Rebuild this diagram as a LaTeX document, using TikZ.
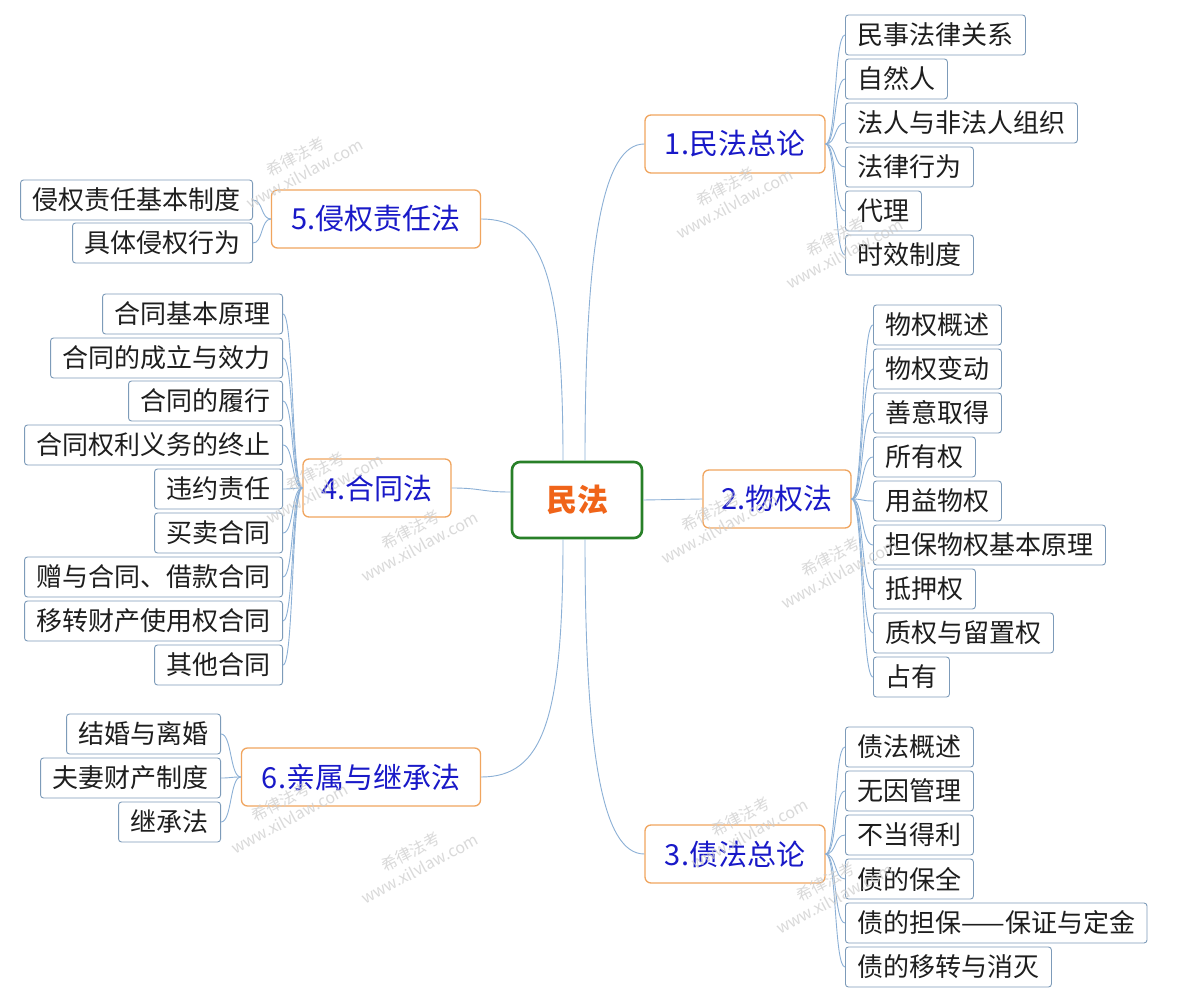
\documentclass[tikz,border=0pt]{standalone}
\usepackage{fontspec}
\setmainfont{Noto Sans CJK SC}
\definecolor{linkc}{RGB}{140,176,214}
\definecolor{leafc}{RGB}{125,155,185}
\definecolor{topc}{RGB}{240,165,95}
\definecolor{topt}{RGB}{25,25,200}
\definecolor{centc}{RGB}{40,128,40}
\definecolor{centt}{RGB}{240,100,25}
\definecolor{wmc}{RGB}{205,205,205}
\definecolor{leaft}{RGB}{30,30,30}
\begin{document}
\begin{tikzpicture}[x=1pt,y=-1pt,
  conn/.style={draw=linkc, line width=0.9pt},
  leaf/.style={draw=leafc, rounded corners=3pt, fill=white, minimum height=40pt,
    inner xsep=12pt, inner ysep=0pt, line width=0.9pt, text=leaft,
    font=\fontsize{26}{27}\selectfont},
  topic/.style={draw=topc, rounded corners=6pt, fill=white, minimum height=58pt,
    inner sep=0pt, line width=1.3pt, text=topt, font=\fontsize{29}{30}\selectfont},
  central/.style={draw=centc, rounded corners=8pt, fill=white, line width=2.6pt,
    minimum width=130pt, minimum height=76pt, text=centt,
    font=\fontsize{31}{32}\selectfont\bfseries},
  wm/.style={text=wmc, opacity=0.75, rotate=28, align=center,
    font=\fontsize{16}{19}\selectfont}
]
\useasboundingbox (0,0) rectangle (1181,1000);
\fill[white] (0,0) rectangle (1181,1000);

% central and main topics
\node[central] (c) at (577,500) {民法};
\node[topic, minimum width=180pt] (t1) at (735,144) {1.民法总论};
\node[topic, minimum width=148pt] (t2) at (777,499) {2.物权法};
\node[topic, minimum width=180pt] (t3) at (735,854) {3.债法总论};
\node[topic, minimum width=148pt] (t4) at (377,488) {4.合同法};
\node[topic, minimum width=209pt] (t5) at (376,219) {5.侵权责任法};
\node[topic, minimum width=239pt] (t6) at (361,777) {6.亲属与继承法};

% central connectors
\draw[conn] ([xshift=8pt]c.north) .. controls +(0,-215) and +(-42,0) .. (t1.west);
\draw[conn] ([xshift=-14pt]c.north) .. controls +(0,-185) and +(62,0) .. (t5.east);
\draw[conn] ([xshift=8pt]c.south) .. controls +(0,215) and +(-42,0) .. (t3.west);
\draw[conn] ([xshift=-14pt]c.south) .. controls +(0,180) and +(62,0) .. (t6.east);
\draw[conn] ([yshift=8pt]c.west) .. controls +(-30,0) and +(30,0) .. (t4.east);
\draw[conn] (c.east) -- (t2.west);

% group 1
\foreach \t/\y [count=\i] in {民事法律关系/35,自然人/79,法人与非法人组织/123,法律行为/167,代理/211,时效制度/255}{
  \node[leaf, anchor=west] (a\i) at (845,\y) {\t};
  \draw[conn] (t1.east) .. controls +(11,0) and +(-11,0) .. (a\i.west);
}
% group 2
\foreach \t/\y [count=\i] in {物权概述/325,物权变动/369,善意取得/413,所有权/457,用益物权/501,担保物权基本原理/545,抵押权/589,质权与留置权/633,占有/677}{
  \node[leaf, anchor=west] (b\i) at (873,\y) {\t};
  \draw[conn] (t2.east) .. controls +(12,0) and +(-12,0) .. (b\i.west);
}
% group 3
\foreach \t/\y [count=\i] in {债法概述/747,无因管理/791,不当得利/835,债的保全/879,债的担保——保证与定金/923,债的移转与消灭/967}{
  \node[leaf, anchor=west] (d\i) at (845,\y) {\t};
  \draw[conn] (t3.east) .. controls +(11,0) and +(-11,0) .. (d\i.west);
}
% group 4
\foreach \t/\y [count=\i] in {合同基本原理/314,合同的成立与效力/358,合同的履行/401,合同权利义务的终止/445,违约责任/489,买卖合同/533,赠与合同、借款合同/577,移转财产使用权合同/621,其他合同/665}{
  \node[leaf, anchor=east] (e\i) at (283,\y) {\t};
  \draw[conn] (t4.west) .. controls +(-11,0) and +(11,0) .. (e\i.east);
}
% group 5
\foreach \t/\y [count=\i] in {侵权责任基本制度/200,具体侵权行为/243}{
  \node[leaf, anchor=east] (f\i) at (253,\y) {\t};
  \draw[conn] (t5.west) .. controls +(-10,0) and +(10,0) .. (f\i.east);
}
% group 6
\foreach \t/\y [count=\i] in {结婚与离婚/734,夫妻财产制度/778,继承法/822}{
  \node[leaf, anchor=east] (g\i) at (221,\y) {\t};
  \draw[conn] (t6.west) .. controls +(-11,0) and +(11,0) .. (g\i.east);
}

% watermarks
\foreach \x/\y [count=\i] in {300/165,730/195,840/245,320/480,415/538,715/520,835/565,285/810,415/860,745/825,830/890}{
  \node[wm] (w\i) at (\x,\y) {希律法考\\www.xilvlaw.com};
}
\end{tikzpicture}
\end{document}
